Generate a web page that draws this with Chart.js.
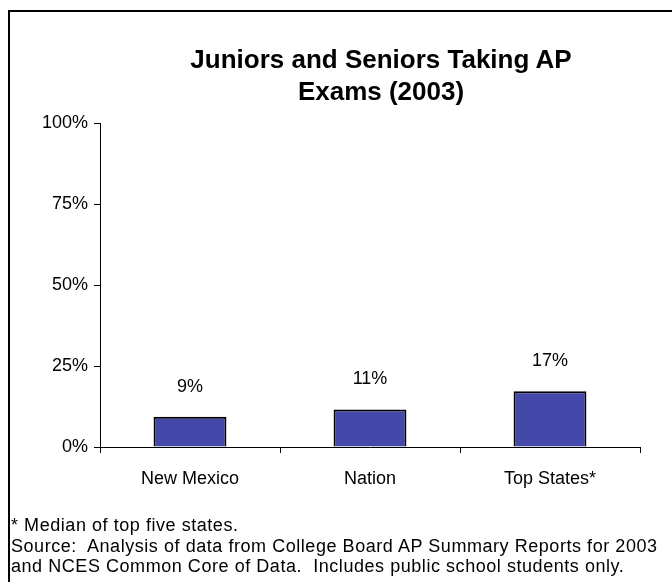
<!DOCTYPE html>
<html>
<head>
<meta charset="utf-8">
<script src="https://cdn.jsdelivr.net/npm/chart.js@4"></script>
<style>
  html, body { margin: 0; padding: 0; background: #fff; }
  body { width: 672px; height: 582px; position: relative; overflow: hidden; font-family: "Liberation Sans", Arial, sans-serif; }
  .frame { position: absolute; left: 8px; top: 10px; width: 700px; height: 600px; border-left: 2px solid #000; border-top: 2px solid #000; }
  .title { position: absolute; left: 131px; width: 500px; top: 43px; text-align: center; font-weight: bold; font-size: 26px; line-height: 32px; color: #000; }
  .note { position: absolute; left: 11px; top: 515px; font-size: 18px; letter-spacing: 0.55px; line-height: 20.5px; color: #000; white-space: pre; }
  #chart { position: absolute; left: 0; top: 0; }
</style>
</head>
<body>
<div class="frame"></div>
<canvas id="chart" width="672" height="582"></canvas>
<div class="title">Juniors and Seniors Taking AP<br>Exams (2003)</div>
<div class="note">* Median of top five states.
Source:  Analysis of data from College Board AP Summary Reports for 2003
and NCES Common Core of Data.  Includes public school students only.</div>
<script>
const categories = ["New Mexico", "Nation", "Top States*"];
const shares = [9.3, 11.6, 17.2];
const shareLabels = ["9%", "11%", "17%"];
const yTicks = [0, 25, 50, 75, 100];

// draws the percentage text above each bar
const valueLabels = {
  id: "valueLabels",
  afterDatasetsDraw(chart) {
    const ctx = chart.ctx;
    const meta = chart.getDatasetMeta(0);
    ctx.save();
    ctx.font = "18px 'Liberation Sans', Arial, sans-serif";
    ctx.fillStyle = "#000";
    ctx.textAlign = "center";
    ctx.textBaseline = "middle";
    meta.data.forEach((bar, i) => {
      ctx.fillText(shareLabels[i], bar.x, bar.y - 30);
    });
    ctx.restore();
  },
};

const ctx = document.getElementById("chart").getContext("2d");
new Chart(ctx, {
  type: "bar",
  data: {
    labels: categories,
    datasets: [
      {
        data: shares,
        backgroundColor: "#4448A8",
        borderColor: "#000",
        borderWidth: 2,
        borderSkipped: "bottom",
        categoryPercentage: 1,
        barPercentage: 0.405,
      },
    ],
  },
  options: {
    responsive: false,
    animation: false,
    layout: { padding: { left: 0, right: 32, top: 123, bottom: 0 } },
    plugins: {
      legend: { display: false },
      tooltip: { enabled: false },
    },
    scales: {
      x: {
        grid: { offset: true, drawOnChartArea: false, drawTicks: true, tickLength: 6, color: "#000" },
        border: { display: true, color: "#000", width: 1 },
        ticks: { color: "#000", padding: 15, font: { size: 18, family: "'Liberation Sans', Arial, sans-serif" } },
        afterFit: (s) => { s.height = 135; },
      },
      y: {
        min: 0,
        max: 100,
        afterBuildTicks: (s) => { s.ticks = yTicks.map((v) => ({ value: v })); },
        grid: { drawOnChartArea: false, drawTicks: true, tickLength: 6, color: "#000" },
        border: { display: true, color: "#000", width: 1 },
        ticks: {
          color: "#000",
          padding: 6,
          font: { size: 18, family: "'Liberation Sans', Arial, sans-serif" },
          callback: (v) => v + "%",
        },
        afterFit: (s) => { s.width = 100; },
      },
    },
  },
  plugins: [valueLabels],
});
</script>
</body>
</html>
